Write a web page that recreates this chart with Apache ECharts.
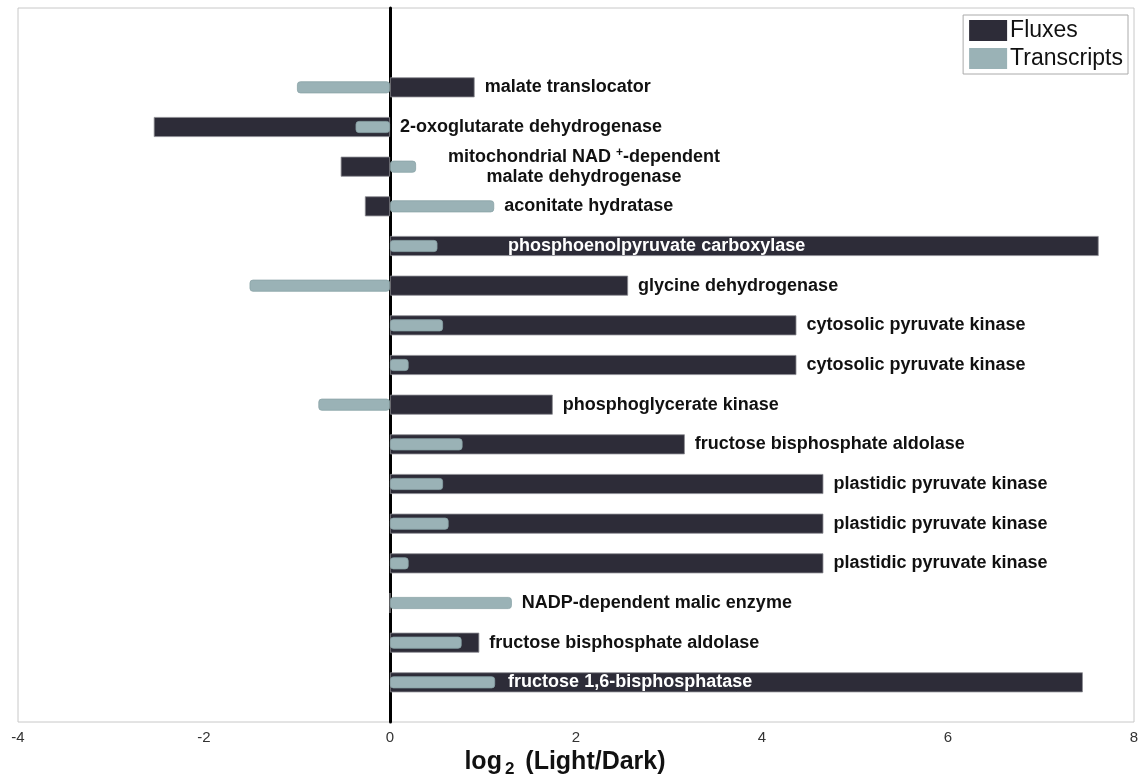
<!DOCTYPE html>
<html>
<head>
<meta charset="utf-8">
<script src="https://cdn.jsdelivr.net/npm/echarts@6/dist/echarts.min.js"></script>
<style>
  html, body { margin: 0; padding: 0; background: #fff; }
  #chart { width: 1146px; height: 777px; }
</style>
</head>
<body>
<div id="chart"></div>
<script>
// enzyme names, top to bottom
var enzymes = [
  'malate translocator',
  '2-oxoglutarate dehydrogenase',
  'mitochondrial NAD+-dependent malate dehydrogenase',
  'aconitate hydratase',
  'phosphoenolpyruvate carboxylase',
  'glycine dehydrogenase',
  'cytosolic pyruvate kinase',
  'cytosolic pyruvate kinase',
  'phosphoglycerate kinase',
  'fructose bisphosphate aldolase',
  'plastidic pyruvate kinase',
  'plastidic pyruvate kinase',
  'plastidic pyruvate kinase',
  'NADP-dependent malic enzyme',
  'fructose bisphosphate aldolase',
  'fructose 1,6-bisphosphatase'
];
// log2 (Light/Dark)
var fluxes      = [0.91, -2.54, -0.53, -0.27, 7.62, 2.56, 4.37, 4.37, 1.75, 3.17, 4.66, 4.66, 4.66, 0, 0.96, 7.45];
var transcripts = [-1.0, -0.37, 0.28, 1.12, 0.51, -1.51, 0.57, 0.20, -0.77, 0.78, 0.57, 0.63, 0.20, 1.31, 0.77, 1.13];
var xTicks = [-4, -2, 0, 2, 4, 6, 8];

var FONT = '"Liberation Sans", Arial, sans-serif';
var insideLabels = [4, 15];   // white label drawn inside the flux bar
var INSIDE_X = 1.27;

// category slots: two empty on top, one at the bottom
var slots = [];
for (var i = 0; i < enzymes.length + 3; i++) slots.push(String(i));

function pad(arr) {
  var out = ['-', '-'];
  for (var i = 0; i < arr.length; i++) out.push(arr[i]);
  out.push('-');
  return out;
}

var labelData = [];
for (var i = 0; i < enzymes.length; i++) {
  labelData.push([Math.max(0, fluxes[i], transcripts[i]), i + 2, i]);
}

var myChart = echarts.init(document.getElementById('chart'));

var option = {
  backgroundColor: '#fff',
  animation: false,
  textStyle: { fontFamily: FONT },
  grid: {
    left: 18, right: 12, top: 8, bottom: 55,
    outerBoundsMode: 'none',
    show: true, borderColor: '#c8c8c8', borderWidth: 1
  },
  legend: {
    data: ['Fluxes', 'Transcripts'],
    orient: 'vertical',
    right: 18, top: 15,
    icon: 'rect',
    itemWidth: 38, itemHeight: 21, itemGap: 5,
    padding: [4, 5, 4, 6],
    borderColor: '#aaa', borderWidth: 1,
    itemStyle: { borderWidth: 0 },
    textStyle: { fontSize: 23, color: '#111', fontFamily: FONT, padding: [0, 0, 0, -2] }
  },
  xAxis: [
    {
      type: 'value', position: 'bottom',
      min: xTicks[0], max: xTicks[xTicks.length - 1], interval: 2,
      axisLine: { onZero: false, lineStyle: { color: '#c8c8c8' } },
      axisTick: { inside: true, length: 10, lineStyle: { color: '#c8c8c8' } },
      splitLine: { show: false },
      axisLabel: { color: '#333', fontSize: 15, margin: 8, fontFamily: FONT },
      name: '{a|log}{b|2}{a| (Light/Dark)}{p| }',
      nameLocation: 'middle',
      nameGap: 15,
      nameTextStyle: {
        rich: {
          a: { fontSize: 25, fontWeight: 'bold', color: '#111', fontFamily: FONT },
          b: { fontSize: 17, fontWeight: 'bold', color: '#111', fontFamily: FONT, verticalAlign: 'bottom', padding: [13, 4, 0, 3] },
          p: { fontSize: 10, width: 22 }
        }
      }
    },
    {
      type: 'value', position: 'top',
      min: xTicks[0], max: xTicks[xTicks.length - 1], interval: 2,
      axisLine: { onZero: false, lineStyle: { color: '#c8c8c8' } },
      axisTick: { inside: true, length: 10, lineStyle: { color: '#c8c8c8' } },
      splitLine: { show: false },
      axisLabel: { show: false }
    }
  ],
  yAxis: [
    {
      type: 'category', data: slots, inverse: true, boundaryGap: false,
      axisLine: { onZero: true, lineStyle: { color: '#000', width: 3 } },
      axisTick: { show: false },
      axisLabel: { show: false },
      splitLine: { show: false }
    },
    {
      type: 'category', data: slots, inverse: true, boundaryGap: false, show: false
    }
  ],
  series: [
    {
      name: 'Fluxes', type: 'bar',
      xAxisIndex: 0, yAxisIndex: 0,
      barWidth: 20,
      itemStyle: { color: '#2d2c38', borderColor: '#8a8a90', borderWidth: 0.8 },
      data: pad(fluxes),
      z: 2
    },
    {
      name: 'Transcripts', type: 'bar',
      xAxisIndex: 0, yAxisIndex: 1,
      barWidth: 12,
      itemStyle: { color: '#9ab2b6', borderColor: '#8aa3a7', borderWidth: 0.8, borderRadius: 3 },
      data: pad(transcripts),
      z: 3
    },
    {
      type: 'custom',
      xAxisIndex: 0, yAxisIndex: 0,
      silent: true,
      z: 10,
      data: labelData,
      renderItem: function (params, api) {
        var row = api.value(2);
        var p = api.coord([api.value(0), api.value(1)]);
        var name = enzymes[row];
        if (insideLabels.indexOf(row) >= 0) {
          var q = api.coord([INSIDE_X, api.value(1)]);
          return {
            type: 'text',
            style: { x: q[0], y: q[1], text: name, fill: '#fff', font: 'bold 18px ' + FONT,
              textAlign: 'left', textVerticalAlign: 'middle' }
          };
        }
        if (name.indexOf('NAD+') >= 0) {
          return {
            type: 'text',
            style: {
              x: p[0] + 168, y: p[1],
              text: '{n|mitochondrial NAD }{s|+}{n|-dependent}\n{n|malate dehydrogenase}',
              textAlign: 'center', textVerticalAlign: 'middle',
              rich: {
                n: { font: 'bold 18px ' + FONT, fill: '#111', lineHeight: 20 },
                s: { font: 'bold 12px ' + FONT, fill: '#111', lineHeight: 20, verticalAlign: 'top' }
              }
            }
          };
        }
        return {
          type: 'text',
          style: { x: p[0] + 10, y: p[1], text: name, fill: '#111', font: 'bold 18px ' + FONT,
            textAlign: 'left', textVerticalAlign: 'middle' }
        };
      }
    }
  ]
};
myChart.setOption(option);
</script>
</body>
</html>
